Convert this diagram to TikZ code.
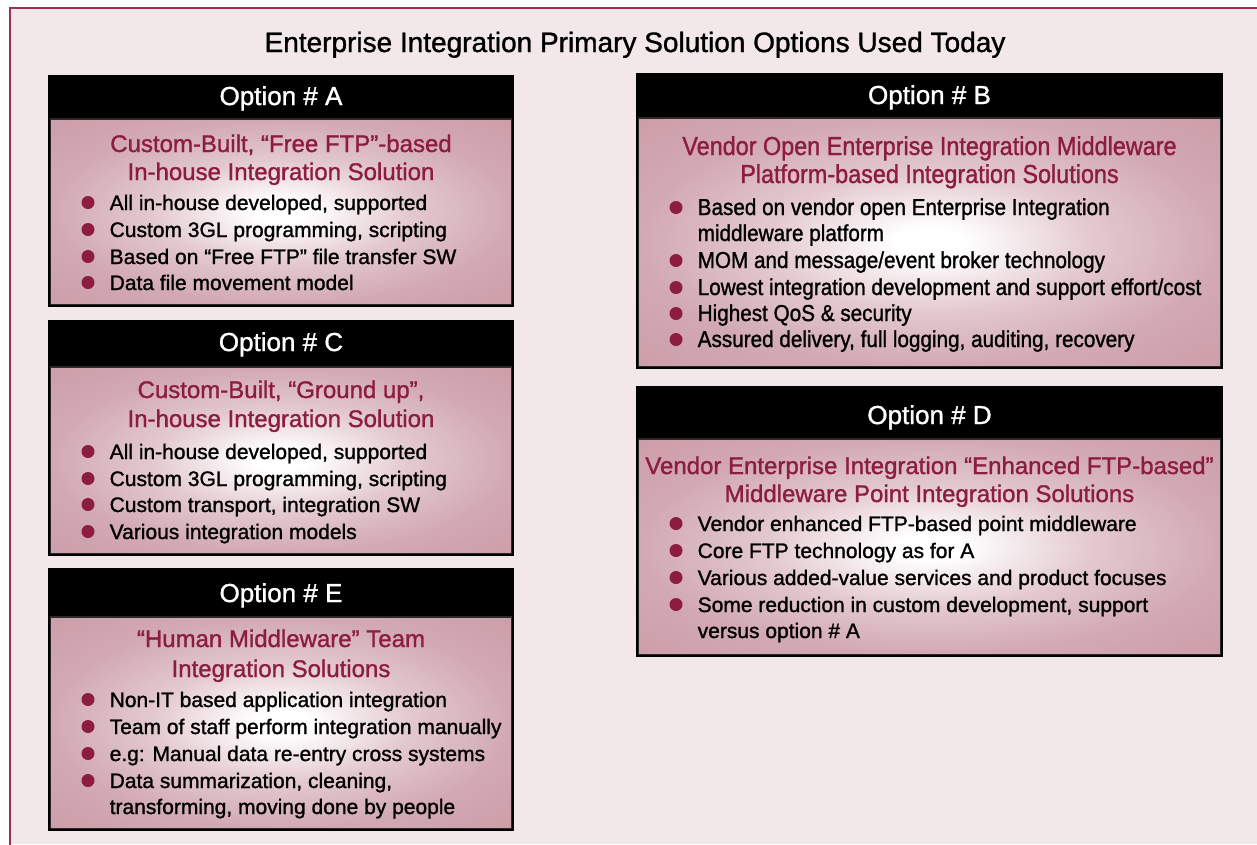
\documentclass[tikz,border=0pt]{standalone}
\usepackage{fontspec}
\setmainfont{Liberation Sans}[UprightFeatures={FakeBold=1.2}]
\newfontfamily\condfont{Liberation Sans}[FakeStretch=0.9,UprightFeatures={FakeBold=1.2}]
\definecolor{optred}{HTML}{8C1D3E}
\definecolor{framered}{HTML}{9E2F4E}
\definecolor{paper}{HTML}{F2E8EA}
\definecolor{rose}{HTML}{CC9DA8}
\definecolor{bodyline}{HTML}{2A2A2A}
\pgfdeclareradialshading{roseglow}{\pgfpoint{0bp}{0bp}}{%
  color(0bp)=(white); color(3bp)=(white); color(14bp)=(rose!55!white);
  color(25bp)=(rose!88!white); color(36bp)=(rose); color(50bp)=(rose)}

\tikzset{
  hdrtxt/.style={anchor=base, inner sep=0pt, text=white, font=\fontsize{26}{30}\selectfont},
  ttl/.style={anchor=base, inner sep=0pt, text=optred, font=\fontsize{24}{28}\selectfont},
  ttlb/.style={ttl, font=\condfont\fontsize{26}{30}\selectfont},
  itm/.style={anchor=base west, inner sep=0pt, text=black, font=\fontsize{21}{25}\selectfont},
  itmb/.style={itm, font=\condfont\fontsize{23}{27}\selectfont},
  dot/.style={circle, fill=optred, minimum size=13pt, inner sep=0pt},
}

% black frame with header bar and shaded body: left, right, top, header bottom, bottom
\newcommand\optbox[5]{%
  \fill[black] (#1,#3) rectangle (#2,#5);
  \shade[shading=roseglow, draw=bodyline, line width=1.2pt]
    (#1+2.5,#4) rectangle (#2-2.5,#5-2.5);
}
% bulleted line: node name, dot x, baseline y, text, style
\newcommand\bul[5]{%
  \node[dot] (#1d) at (#2,#3-7.5) {};
  \node[#5] (#1) at (#2+21.5,#3) {#4};
}

\begin{document}
\begin{tikzpicture}[x=1pt, y=-1pt]
\useasboundingbox (0,0) rectangle (1257,844);
\fill[white] (0,0) rectangle (1257,844);
\fill[paper] (10,8) rectangle (1257,844);
\draw[framered, line width=2pt] (1262,8) -- (10,8) -- (10,849);

\node[anchor=base, inner sep=0pt, font=\fontsize{28}{32}\selectfont] (title) at (635,52)
  {Enterprise Integration Primary Solution Options Used Today};

% Option A
\optbox{48}{514}{75}{119}{307}
\node[hdrtxt] (A-h) at (281,105) {Option \# A};
\node[ttl] (A-t1) at (281,152) {Custom-Built, “Free FTP”-based};
\node[ttl] (A-t2) at (281,180) {In-house Integration Solution};
\bul{A-1}{88}{210}{All in-house developed, supported}{itm}
\bul{A-2}{88}{237}{Custom 3GL programming, scripting}{itm}
\bul{A-3}{88}{264}{Based on “Free FTP” file transfer SW}{itm}
\bul{A-4}{88}{290}{Data file movement model}{itm}

% Option C
\optbox{48}{514}{320}{367}{556}
\node[hdrtxt] (C-h) at (281,351) {Option \# C};
\node[ttl] (C-t1) at (281,398) {Custom-Built, “Ground up”,};
\node[ttl] (C-t2) at (281,427) {In-house Integration Solution};
\bul{C-1}{88}{459}{All in-house developed, supported}{itm}
\bul{C-2}{88}{486}{Custom 3GL programming, scripting}{itm}
\bul{C-3}{88}{512}{Custom transport, integration SW}{itm}
\bul{C-4}{88}{539}{Various integration models}{itm}

% Option E
\optbox{48}{514}{568}{617}{831}
\node[hdrtxt] (E-h) at (281,602) {Option \# E};
\node[ttl] (E-t1) at (281,647) {“Human Middleware” Team};
\node[ttl] (E-t2) at (281,677) {Integration Solutions};
\bul{E-1}{88}{707}{Non-IT based application integration}{itm}
\bul{E-2}{88}{734}{Team of staff perform integration manually}{itm}
\bul{E-3}{88}{761}{e.g: Manual data re-entry cross systems}{itm}
\bul{E-4}{88}{788}{Data summarization, cleaning,}{itm}
\node[itm] (E-4b) at (109.5,814) {transforming, moving done by people};

% Option B
\optbox{636}{1223}{73}{118}{369}
\node[hdrtxt] (B-h) at (929.5,104) {Option \# B};
\node[ttlb] (B-t1) at (929.5,155) {Vendor Open Enterprise Integration Middleware};
\node[ttlb] (B-t2) at (929.5,183) {Platform-based Integration Solutions};
\bul{B-1}{676}{215}{Based on vendor open Enterprise Integration}{itmb}
\node[itmb] (B-1b) at (697.5,241) {middleware platform};
\bul{B-2}{676}{268}{MOM and message/event broker technology}{itmb}
\bul{B-3}{676}{295}{Lowest integration development and support effort/cost}{itmb}
\bul{B-4}{676}{321}{Highest QoS \& security}{itmb}
\bul{B-5}{676}{347}{Assured delivery, full logging, auditing, recovery}{itmb}

% Option D
\optbox{636}{1223}{386}{439}{657}
\node[hdrtxt] (D-h) at (929.5,424) {Option \# D};
\node[ttl] (D-t1) at (929.5,474) {Vendor Enterprise Integration “Enhanced FTP-based”};
\node[ttl] (D-t2) at (929.5,502) {Middleware Point Integration Solutions};
\bul{D-1}{676}{531}{Vendor enhanced FTP-based point middleware}{itm}
\bul{D-2}{676}{558}{Core FTP technology as for A}{itm}
\bul{D-3}{676}{585}{Various added-value services and product focuses}{itm}
\bul{D-4}{676}{612}{Some reduction in custom development, support}{itm}
\node[itm] (D-4b) at (697.5,638) {versus option \# A};
\end{tikzpicture}
\end{document}
